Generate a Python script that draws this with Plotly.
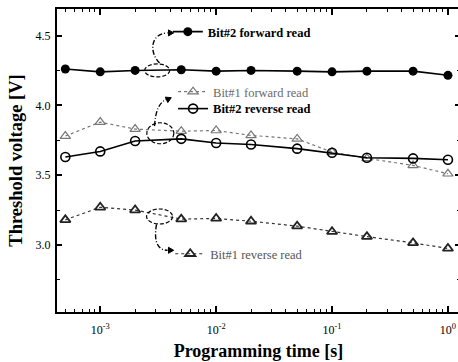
import math
import plotly.graph_objects as go

# ---------------- data ----------------
prog_time = [5e-4, 1e-3, 2e-3, 5e-3, 1e-2, 2e-2, 5e-2, 1e-1, 2e-1, 5e-1, 1.0]
bit2_forward = [4.26, 4.24, 4.25, 4.255, 4.245, 4.25, 4.245, 4.24, 4.245, 4.245, 4.215]
bit1_forward = [3.78, 3.88, 3.83, 3.815, 3.82, 3.785, 3.76, 3.665, 3.62, 3.57, 3.51]
bit2_reverse = [3.63, 3.67, 3.745, 3.76, 3.73, 3.72, 3.69, 3.66, 3.625, 3.62, 3.61]
bit1_reverse = [3.18, 3.27, 3.25, 3.185, 3.19, 3.17, 3.135, 3.095, 3.06, 3.015, 2.975]

series_names = ["Bit#2 forward read", "Bit#1 forward read",
                "Bit#2 reverse read", "Bit#1 reverse read"]

x_tickvals = [1e-3, 1e-2, 1e-1, 1.0]
x_ticktext = ["10<sup>-3</sup>", "10<sup>-2</sup>", "10<sup>-1</sup>", "10<sup>0</sup>"]
y_tickvals = [3.0, 3.5, 4.0, 4.5]
y_ticktext = ["3.0", "3.5", "4.0", "4.5"]

XR = [-3.373, 0.104]   # log10 range
YR = [2.52, 4.69]

W, H = 460, 362
ML, MR, MT, MB = 57, 0, 9, 50
PW, PH = W - ML - MR, H - MT - MB

SERIF = "Liberation Serif"

def P(t, v):
    px = (math.log10(t) - XR[0]) / (XR[1] - XR[0])
    py = (v - YR[0]) / (YR[1] - YR[0])
    return px, py

def pstr(t, v):
    x, y = P(t, v)
    return f"{x:.5f},{y:.5f}"

fig = go.Figure()

fig.add_trace(go.Scatter(
    x=prog_time, y=bit2_forward, name=series_names[0], mode="lines+markers",
    line=dict(color="black", width=1.6),
    marker=dict(symbol="circle", size=9, color="black"),
    legend="legend"))
fig.add_trace(go.Scatter(
    x=prog_time, y=bit1_forward, name=series_names[1], mode="lines+markers",
    line=dict(color="#777777", width=1.2, dash="dot"),
    marker=dict(symbol="triangle-up-open", size=9, color="#777777",
                line=dict(width=1.2, color="#777777")),
    legend="legend2"))
fig.add_trace(go.Scatter(
    x=prog_time, y=bit2_reverse, name=series_names[2], mode="lines+markers",
    line=dict(color="black", width=1.6),
    marker=dict(symbol="circle-open", size=9, color="black",
                line=dict(width=1.6, color="black")),
    legend="legend3"))
fig.add_trace(go.Scatter(
    x=prog_time, y=bit1_reverse, name=series_names[3], mode="lines+markers",
    line=dict(color="#333333", width=1.2, dash="dot"),
    marker=dict(symbol="triangle-up-open", size=9, color="#222222",
                line=dict(width=1.8, color="#222222")),
    legend="legend4"))

# ---------- decorations: ellipses and curved arrows ----------
shapes = []

def ellipse(t, v, wpx, hpx):
    cx, cy = P(t, v)
    dx, dy = wpx / 2 / PW, hpx / 2 / PH
    shapes.append(dict(type="circle", xref="paper", yref="paper",
                       x0=cx - dx, x1=cx + dx, y0=cy - dy, y1=cy + dy,
                       line=dict(color="black", width=1.2, dash="4px,2px")))

def curve(pts):
    p0, c1, c2, p1 = pts
    path = f"M{pstr(*p0)} C{pstr(*c1)} {pstr(*c2)} {pstr(*p1)}"
    shapes.append(dict(type="path", xref="paper", yref="paper", path=path,
                       line=dict(color="black", width=1.4, dash="5px,2px,1px,2px")))

def arrowhead(t, v, ang_deg, size=6):
    tx, ty = P(t, v)
    a = math.radians(ang_deg)
    pts = []
    for da, r in [(0, 0), (150, size), (-150, size)]:
        aa = a + math.radians(da)
        pts.append((tx + r * math.cos(aa) / PW, ty + r * math.sin(aa) / PH))
    path = "M" + " L".join(f"{x:.5f},{y:.5f}" for x, y in pts) + " Z"
    shapes.append(dict(type="path", xref="paper", yref="paper", path=path,
                       fillcolor="black", line=dict(color="black", width=1)))

ellipse(3.1e-3, 4.25, 25, 13)
ellipse(3.3e-3, 3.80, 27, 21)
ellipse(3.25e-3, 3.204, 26, 15)

curve([(3.25e-3, 4.303), (2.66e-3, 4.375), (2.66e-3, 4.511), (3.81e-3, 4.519)])
arrowhead(4.3e-3, 4.519, 0)
curve([(2.94e-3, 3.851), (3.0e-3, 3.958), (3.2e-3, 4.024), (3.8e-3, 4.045)])
arrowhead(4.1e-3, 4.055, 25)
curve([(3.06e-3, 3.148), (2.88e-3, 3.027), (3.12e-3, 2.962), (3.81e-3, 2.962)])
arrowhead(4.3e-3, 2.962, 0)

def leg(x, y, color, weight):
    return dict(x=x, y=y, xanchor="left", yanchor="middle",
                bgcolor="rgba(0,0,0,0)", borderwidth=0,
                font=dict(family=SERIF, size=12.5, color=color, weight=weight))

axis_common = dict(
    showline=True, linecolor="black", linewidth=2, mirror="allticks",
    ticks="inside", tickcolor="black", tickwidth=1.5, showgrid=False,
    zeroline=False, automargin=False,
    tickfont=dict(family=SERIF, size=12, color="black"),
)

minor_x = [k * 10.0 ** n for n in range(-4, 1) for k in range(2, 10)]

fig.update_layout(
    width=W, height=H,
    margin=dict(l=ML, r=MR, t=MT, b=MB),
    paper_bgcolor="white", plot_bgcolor="white",
    showlegend=True,
    shapes=shapes,
    legend=leg(0.275, 0.924, "black", "bold"),
    legend2=leg(0.288, 0.726, "#6a6a6a", "normal"),
    legend3=leg(0.288, 0.670, "black", "bold"),
    legend4=leg(0.281, 0.191, "#555555", "normal"),
    xaxis=dict(type="log", range=XR, tickvals=x_tickvals, ticktext=x_ticktext,
               ticklen=6, ticklabelstandoff=6,
               minor=dict(tickvals=minor_x, ticks="inside", ticklen=3,
                          tickcolor="black", tickwidth=1.2),
               title=dict(text="<b>Programming time [s]</b>",
                          font=dict(family=SERIF, size=18, color="black"),
                          standoff=8),
               **axis_common),
    yaxis=dict(range=YR, tickvals=y_tickvals, ticktext=y_ticktext, ticklen=5,
               ticklabelstandoff=2,
               minor=dict(dtick=0.25, tick0=0, ticks="inside", ticklen=3,
                          tickcolor="black", tickwidth=1.2),
               title=dict(text="<b>Threshold voltage [V]</b>",
                          font=dict(family=SERIF, size=18.5, color="black"),
                          standoff=8),
               **axis_common),
)

fig.write_html("out.html",
               config={"displayModeBar": False},
               post_script="document.body.style.margin='0';"
                           "document.body.style.overflow='hidden';")
